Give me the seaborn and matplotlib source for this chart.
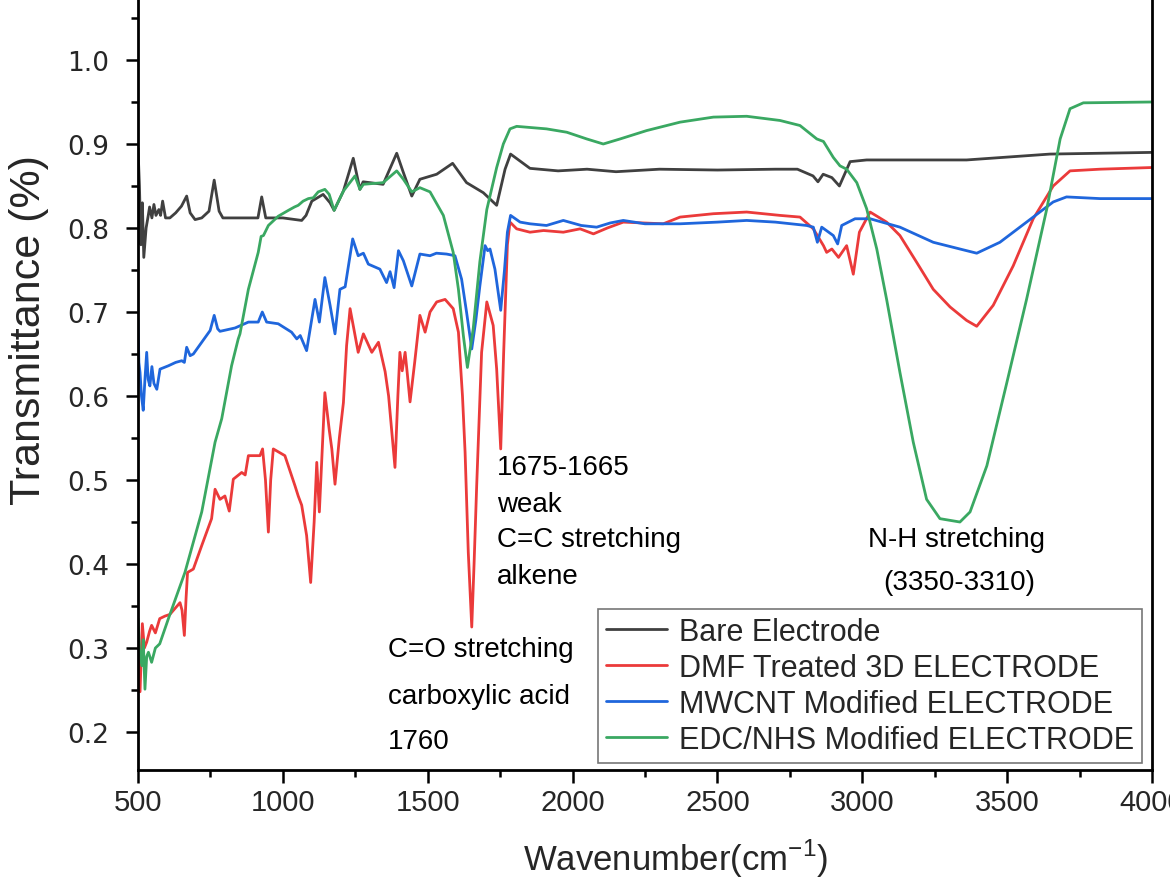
import matplotlib
matplotlib.use("Agg")
import matplotlib.pyplot as plt
import seaborn as sns
import numpy as np
from matplotlib.ticker import MultipleLocator

# ---------------- data ----------------
labels = ["Bare Electrode", "DMF Treated 3D ELECTRODE",
          "MWCNT Modified ELECTRODE", "EDC/NHS Modified ELECTRODE"]
colors = ["#404040", "#eb3a3a", "#1f66dc", "#3aa862"]

bare_wn = [500, 505, 510, 515, 520, 528, 535, 540, 548, 555, 562, 572, 578, 585, 595,
           610, 630, 650, 668, 680, 697, 720, 745, 763, 780, 793, 850, 914, 927, 941,
           1000, 1065, 1080, 1100, 1139, 1163, 1177, 1209, 1243, 1266, 1277, 1346, 1393,
           1415, 1445, 1473, 1531, 1586, 1634, 1692, 1738, 1767, 1786, 1853, 1950, 2050,
           2150, 2300, 2500, 2700, 2776, 2830, 2847, 2865, 2895, 2921, 2958, 3015, 3360,
           3648, 4000]
bare_t = [0.895, 0.85, 0.78, 0.83, 0.765, 0.80, 0.814, 0.825, 0.812, 0.828, 0.815, 0.822,
          0.815, 0.832, 0.812, 0.812, 0.818, 0.826, 0.838, 0.818, 0.810, 0.812, 0.820,
          0.857, 0.820, 0.812, 0.812, 0.812, 0.837, 0.812, 0.812, 0.809, 0.815, 0.832,
          0.840, 0.830, 0.821, 0.844, 0.883, 0.846, 0.855, 0.852, 0.889, 0.867, 0.838,
          0.858, 0.864, 0.877, 0.854, 0.842, 0.827, 0.870, 0.888, 0.871, 0.868, 0.870,
          0.867, 0.870, 0.869, 0.870, 0.870, 0.862, 0.855, 0.864, 0.860, 0.850, 0.879,
          0.881, 0.881, 0.888, 0.890]

dmf_wn = [500, 503, 507, 515, 522, 530, 540, 547, 560, 575, 593, 610, 630, 645, 652, 660,
          666, 671, 691, 720, 754, 766, 783, 800, 815, 829, 858, 870, 881, 921, 930, 940,
          950, 958, 967, 1007, 1042, 1053, 1065, 1082, 1096, 1108, 1117, 1126, 1145, 1160,
          1169, 1180, 1195, 1209, 1220, 1232, 1245, 1260, 1278, 1307, 1330, 1353, 1365,
          1387, 1397, 1404, 1412, 1422, 1430, 1439, 1455, 1473, 1491, 1508, 1531, 1560,
          1588, 1606, 1620, 1629, 1640, 1652, 1660, 1669, 1686, 1704, 1726, 1738, 1752,
          1762, 1775, 1784, 1807, 1853, 1900, 1968, 2026, 2072, 2120, 2175, 2313, 2371,
          2486, 2601, 2716, 2785, 2831, 2866, 2877, 2895, 2918, 2946, 2969, 2990, 3027,
          3084, 3130, 3188, 3245, 3303, 3360, 3395, 3452, 3521, 3590, 3659, 3717, 3820,
          4000]
dmf_t = [0.30, 0.25, 0.248, 0.329, 0.30, 0.307, 0.32, 0.327, 0.318, 0.335, 0.338, 0.34,
         0.348, 0.354, 0.345, 0.315, 0.36, 0.390, 0.394, 0.422, 0.454, 0.489, 0.477, 0.481,
         0.463, 0.501, 0.509, 0.506, 0.529, 0.529, 0.537, 0.50, 0.438, 0.50, 0.537, 0.529,
         0.493, 0.481, 0.470, 0.434, 0.378, 0.45, 0.521, 0.462, 0.604, 0.56, 0.537, 0.495,
         0.55, 0.592, 0.66, 0.704, 0.68, 0.652, 0.674, 0.652, 0.664, 0.629, 0.60, 0.515,
         0.60, 0.652, 0.63, 0.652, 0.625, 0.593, 0.64, 0.696, 0.676, 0.700, 0.712, 0.715,
         0.704, 0.676, 0.60, 0.533, 0.414, 0.325, 0.40, 0.493, 0.652, 0.712, 0.684, 0.632,
         0.537, 0.65, 0.78, 0.807, 0.799, 0.795, 0.797, 0.795, 0.799, 0.793, 0.800, 0.807,
         0.805, 0.813, 0.817, 0.819, 0.815, 0.813, 0.799, 0.779, 0.771, 0.775, 0.765, 0.779,
         0.745, 0.795, 0.819, 0.807, 0.791, 0.759, 0.727, 0.706, 0.690, 0.683, 0.708, 0.755,
         0.811, 0.850, 0.868, 0.870, 0.872]

mwcnt_wn = [500, 503, 507, 512, 518, 524, 530, 535, 541, 548, 555, 565, 576, 605, 630, 651,
            660, 668, 680, 691, 720, 749, 763, 775, 783, 835, 881, 915, 929, 944, 984,
            1030, 1048, 1060, 1082, 1111, 1126, 1145, 1163, 1180, 1197, 1215, 1241, 1260,
            1278, 1295, 1335, 1358, 1370, 1384, 1399, 1416, 1445, 1473, 1508, 1530, 1565,
            1594, 1617, 1634, 1652, 1666, 1680, 1698, 1707, 1715, 1732, 1752, 1765, 1775,
            1786, 1819, 1853, 1910, 1968, 2030, 2083, 2130, 2175, 2250, 2371, 2500, 2601,
            2700, 2808, 2831, 2845, 2860, 2900, 2915, 2929, 2975, 3027, 3130, 3245, 3337,
            3395, 3475, 3567, 3659, 3705, 3820, 4000]
mwcnt_t = [0.69, 0.64, 0.628, 0.60, 0.583, 0.62, 0.652, 0.62, 0.612, 0.635, 0.615, 0.608,
           0.632, 0.636, 0.64, 0.642, 0.64, 0.658, 0.648, 0.650, 0.664, 0.678, 0.696, 0.68,
           0.677, 0.681, 0.688, 0.688, 0.700, 0.688, 0.686, 0.676, 0.668, 0.672, 0.654,
           0.715, 0.688, 0.741, 0.708, 0.674, 0.727, 0.73, 0.787, 0.767, 0.770, 0.757,
           0.751, 0.735, 0.748, 0.729, 0.773, 0.761, 0.731, 0.769, 0.767, 0.770, 0.769,
           0.767, 0.739, 0.700, 0.656, 0.69, 0.731, 0.779, 0.773, 0.775, 0.751, 0.702, 0.75,
           0.795, 0.815, 0.807, 0.805, 0.803, 0.809, 0.803, 0.801, 0.806, 0.809, 0.805,
           0.805, 0.807, 0.809, 0.807, 0.803, 0.801, 0.783, 0.801, 0.791, 0.781, 0.803,
           0.811, 0.811, 0.801, 0.783, 0.775, 0.770, 0.783, 0.807, 0.831, 0.837, 0.835, 0.835]

edc_wn = [500, 505, 513, 518, 524, 530, 536, 547, 560, 575, 590, 605, 662, 720, 766, 789,
          823, 846, 852, 881, 915, 925, 933, 950, 984, 1019, 1040, 1053, 1070, 1088, 1105,
          1122, 1145, 1160, 1177, 1209, 1249, 1266, 1278, 1346, 1393, 1416, 1445, 1473,
          1508, 1554, 1588, 1606, 1623, 1637, 1657, 1680, 1704, 1738, 1761, 1784, 1807,
          1910, 1980, 2049, 2106, 2164, 2256, 2371, 2486, 2601, 2716, 2785, 2843, 2866,
          2900, 2923, 2946, 2981, 3015, 3050, 3084, 3130, 3176, 3222, 3268, 3337, 3372,
          3430, 3499, 3567, 3637, 3683, 3717, 3763, 4000]
edc_t = [0.335, 0.30, 0.279, 0.31, 0.251, 0.29, 0.295, 0.283, 0.30, 0.305, 0.32, 0.335,
         0.390, 0.462, 0.545, 0.573, 0.636, 0.668, 0.674, 0.727, 0.771, 0.790, 0.791, 0.803,
         0.814, 0.821, 0.825, 0.827, 0.832, 0.835, 0.836, 0.843, 0.846, 0.840, 0.821, 0.844,
         0.862, 0.846, 0.852, 0.854, 0.868, 0.858, 0.843, 0.848, 0.843, 0.815, 0.771, 0.727,
         0.672, 0.634, 0.680, 0.760, 0.822, 0.872, 0.900, 0.918, 0.921, 0.918, 0.914, 0.906,
         0.900, 0.906, 0.916, 0.926, 0.932, 0.933, 0.928, 0.922, 0.906, 0.903, 0.884, 0.874,
         0.870, 0.854, 0.823, 0.775, 0.715, 0.628, 0.545, 0.477, 0.454, 0.450, 0.462, 0.517,
         0.616, 0.715, 0.823, 0.906, 0.942, 0.949, 0.950]

# annotations (text, wavenumber, transmittance)
notes = [("1675-1665", 1739, 0.5155), ("weak", 1739, 0.4714),
         ("C=C stretching", 1739, 0.4298), ("alkene", 1739, 0.3857),
         ("C=O stretching", 1363, 0.2988), ("carboxylic acid", 1363, 0.2429),
         ("1760", 1363, 0.1893),
         ("N-H stretching", 3020, 0.4298), ("(3350-3310)", 3072, 0.3786)]

# ---------------- plotting ----------------
sns.set_style("ticks")
plt.rcParams['font.family'] = ['Liberation Sans', 'DejaVu Sans']
plt.rcParams['mathtext.fontset'] = 'custom'
plt.rcParams['mathtext.rm'] = 'Liberation Sans'

fig = plt.figure(figsize=(11.7, 8.78), dpi=100)
ax = fig.add_axes([138 / 1170, 1 - 771 / 878, 1014 / 1170, 771 / 878])

series = [(bare_wn, bare_t), (dmf_wn, dmf_t), (mwcnt_wn, mwcnt_t), (edc_wn, edc_t)]
for (wn, t), lab, col in zip(series, labels, colors):
    sns.lineplot(x=np.array(wn), y=np.array(t), ax=ax, color=col, linewidth=2.0,
                 label=lab, sort=False, estimator=None)

ax.set_xlim(500, 4000)
ax.set_ylim(0.1548, 1.0726)
ax.xaxis.set_major_locator(MultipleLocator(500))
ax.xaxis.set_minor_locator(MultipleLocator(250))
ax.yaxis.set_major_locator(MultipleLocator(0.1))
ax.yaxis.set_minor_locator(MultipleLocator(0.05))
ax.yaxis.set_major_formatter(matplotlib.ticker.FormatStrFormatter("%.1f"))

for s in ["left", "bottom", "right"]:
    ax.spines[s].set_linewidth(2.0)
    ax.spines[s].set_color("black")
ax.spines["top"].set_visible(False)

ax.tick_params(axis="both", which="major", direction="out", length=9, width=1.8,
               color="black")
ax.tick_params(axis="both", which="minor", direction="out", length=5, width=1.8,
               color="black")
ax.tick_params(axis="x", which="major", labelsize=21, pad=4)
ax.tick_params(axis="y", which="major", labelsize=19, pad=12)
fig.canvas.draw()
for lbl in ax.get_yticklabels():
    lbl.set_family("DejaVu Sans")

ax.set_xlabel("Wavenumber(cm$^{-1}$)", fontsize=25)
ax.xaxis.set_label_coords(0.53, -0.086)
ax.set_ylabel("Transmittance (%)", fontsize=31)
ax.yaxis.set_label_coords(-0.088, 0.572)

for txt, x, y in notes:
    ax.text(x, y, txt, fontsize=20, ha="left", va="center", color="black")

leg = ax.legend(loc="upper left", bbox_to_anchor=(0.4536, 0.2088), borderaxespad=0,
                fontsize=22, frameon=True, fancybox=False, edgecolor="#555555",
                handlelength=2.0, handletextpad=0.4, labelspacing=0.2, borderpad=0.25)
leg.get_frame().set_linewidth(1.2)

fig.savefig("out.png", dpi=100)
